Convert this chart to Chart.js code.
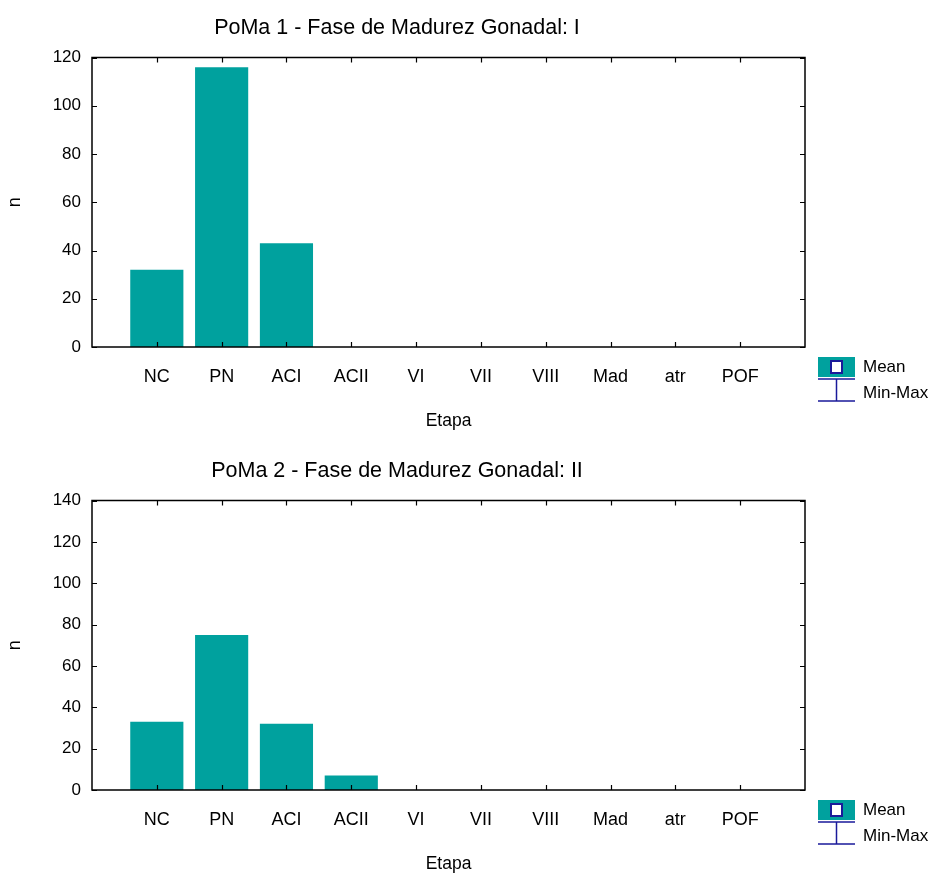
<!DOCTYPE html>
<html>
<head>
<meta charset="utf-8">
<script src="https://cdn.jsdelivr.net/npm/chart.js@4/dist/chart.umd.min.js"></script>
<style>
  html, body { margin:0; padding:0; background:#fff; overflow:hidden; }
  .wrap { position:absolute; left:0; width:933px; height:443px; }
</style>
</head>
<body>
<div class="wrap" style="top:0"><canvas id="c1" width="933" height="443"></canvas></div>
<div class="wrap" style="top:443px"><canvas id="c2" width="933" height="443"></canvas></div>
<script>
const categories = ['NC','PN','ACI','ACII','VI','VII','VIII','Mad','atr','POF'];
const valuesPoMa1 = [32,116,43,0,0,0,0,0,0,0];
const valuesPoMa2 = [33,75,32,7,0,0,0,0,0,0];
const chartTitles = ['PoMa 1 - Fase de Madurez Gonadal: I','PoMa 2 - Fase de Madurez Gonadal: II'];
const yMaxima = [120, 140];
const yStep = 20;
const xAxisTitle = 'Etapa';
const yAxisTitle = 'n';
const legendLabels = ['Mean','Min-Max'];

const FONT = "'Liberation Sans',Arial,sans-serif";
const TEAL = '#00A19E';
const NAVY = '#1a1a9a';

const framePlugin = {
  id:'frame',
  afterDatasetsDraw(chart, args, opts){
    const {ctx, chartArea:a, scales:{x,y}} = chart;
    ctx.save();
    ctx.strokeStyle = '#000';
    ctx.lineWidth = 1.5;
    ctx.strokeRect(a.left, a.top, a.right-a.left, a.bottom-a.top);
    ctx.lineWidth = 1.2;
    ctx.beginPath();
    const L = 5;
    x.ticks.forEach((t,i)=>{
      if (i===0 || i===x.ticks.length-1) return;
      const px = Math.round(x.getPixelForTick(i))+0.5;
      ctx.moveTo(px, a.bottom); ctx.lineTo(px, a.bottom-L);
      ctx.moveTo(px, a.top); ctx.lineTo(px, a.top+L);
    });
    y.ticks.forEach((t,i)=>{
      const py = Math.round(y.getPixelForTick(i))+0.5;
      ctx.moveTo(a.left, py); ctx.lineTo(a.left+L, py);
      ctx.moveTo(a.right, py); ctx.lineTo(a.right-L, py);
    });
    ctx.stroke();
    ctx.restore();
  },
  afterDraw(chart, args, opts){
    const {ctx, chartArea:a} = chart;
    ctx.save();
    ctx.fillStyle = '#000';
    ctx.font = "21.5px " + FONT;
    ctx.textAlign = 'center';
    ctx.textBaseline = 'middle';
    ctx.fillText(opts.title, 397, 28);
    // legend
    const lx = a.right + 13, ly = a.bottom + 10;
    ctx.fillStyle = TEAL;
    ctx.fillRect(lx, ly, 37, 20);
    ctx.fillStyle = '#fff';
    ctx.fillRect(lx+13, ly+4, 11, 12);
    ctx.strokeStyle = NAVY;
    ctx.lineWidth = 2;
    ctx.strokeRect(lx+13, ly+4, 11, 12);
    ctx.lineWidth = 1.5;
    ctx.beginPath();
    ctx.moveTo(lx, ly+22); ctx.lineTo(lx+37, ly+22);
    ctx.moveTo(lx+18.5, ly+22); ctx.lineTo(lx+18.5, ly+44);
    ctx.moveTo(lx, ly+44); ctx.lineTo(lx+37, ly+44);
    ctx.stroke();
    ctx.fillStyle = '#000';
    ctx.font = "17px " + FONT;
    ctx.textAlign = 'left';
    ctx.fillText(legendLabels[0], lx+45, ly+10);
    ctx.fillText(legendLabels[1], lx+45, ly+36);
    ctx.restore();
  }
};

function makeChart(id, values, title, yMax){
  const labels = ['', ...categories, ''];
  const data = [null, ...values, null];
  return new Chart(document.getElementById(id), {
    type:'bar',
    data:{ labels, datasets:[{ label: legendLabels[0], data, backgroundColor: TEAL, borderWidth:0, categoryPercentage:1, barPercentage:0.82 }]},
    options:{
      responsive:false, animation:false,
      layout:{ padding:{ top:57.5, right:128, left:0, bottom:0 } },
      plugins:{ legend:{display:false}, title:{display:false}, tooltip:{enabled:false}, frame:{ title } },
      scales:{
        x:{ type:'category', offset:false,
            grid:{ display:false, drawTicks:false }, border:{ display:false },
            ticks:{ autoSkip:false, maxRotation:0, padding:19, color:'#000', font:{ family:FONT, size:18 } },
            title:{ display:true, text:xAxisTitle, color:'#000', font:{ family:FONT, size:17.5 }, padding:{ top:0, bottom:11 } },
            afterFit(s){ s.height = 96; } },
        y:{ min:0, max:yMax,
            grid:{ display:false, drawTicks:false }, border:{ display:false },
            ticks:{ stepSize:yStep, padding:11, color:'#000', font:{ family:FONT, size:17 } },
            title:{ display:true, text:yAxisTitle, color:'#000', font:{ family:FONT, size:18 }, padding:{ top:4, bottom:0 } },
            afterFit(s){ s.width = 92; } }
      }
    },
    plugins:[framePlugin]
  });
}
makeChart('c1', valuesPoMa1, chartTitles[0], yMaxima[0]);
makeChart('c2', valuesPoMa2, chartTitles[1], yMaxima[1]);
</script>
</body>
</html>
